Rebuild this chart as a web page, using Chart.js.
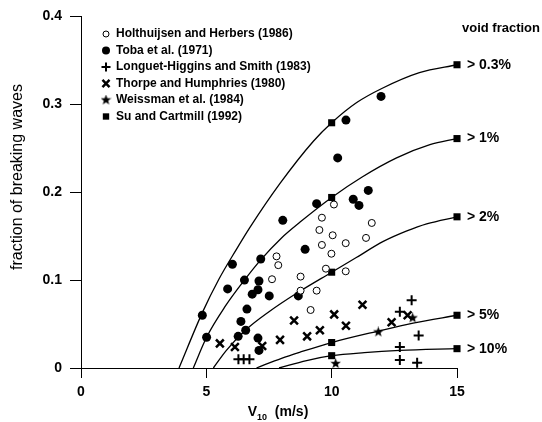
<!DOCTYPE html>
<html>
<head>
<meta charset="utf-8">
<script src="https://cdn.jsdelivr.net/npm/chart.js@4.4.1/dist/chart.umd.min.js"></script>
<style>
  html, body { margin: 0; padding: 0; background: #fff; }
</style>
</head>
<body>
<canvas id="grafico" width="542" height="422"></canvas>
<script>
// wind speed V10 (m/s), fraction of breaking waves
const holthuijsen = [[7.62,0.101],[7.80,0.127],[7.87,0.117],[8.76,0.104],[8.76,0.088],[9.16,0.066],[9.40,0.088],[9.51,0.157],[9.61,0.171],[9.61,0.140],[9.77,0.113],[9.99,0.130],[10.04,0.151],[10.09,0.186],[10.56,0.142],[10.56,0.110],[11.37,0.148],[11.60,0.165]];
const toba = [[4.84,0.060],[5.01,0.035],[5.85,0.090],[6.04,0.118],[6.27,0.036],[6.38,0.053],[6.52,0.100],[6.57,0.043],[6.62,0.067],[6.83,0.084],[7.06,0.089],[7.06,0.034],[7.10,0.099],[7.10,0.020],[7.17,0.124],[7.51,0.082],[8.05,0.168],[8.67,0.082],[8.94,0.135],[9.40,0.187],[10.24,0.239],[10.57,0.282],[10.86,0.192],[11.09,0.185],[11.46,0.202],[11.97,0.309]];
const longuetHiggins = [[6.28,0.010],[6.49,0.010],[6.72,0.010],[12.72,0.064],[12.72,0.024],[12.72,0.009],[13.19,0.077],[13.41,0.006],[13.47,0.037]];
const thorpe = [[5.54,0.028],[6.14,0.024],[7.23,0.025],[7.94,0.032],[8.50,0.054],[9.02,0.036],[9.53,0.043],[10.10,0.061],[10.57,0.048],[11.23,0.072],[12.39,0.052],[13.03,0.060]];
const weissman = [[10.16,0.005],[11.86,0.041],[13.23,0.057]];
const suCartmill = [[10,0.279],[15,0.345],[10,0.194],[15,0.261],[10,0.109],[15,0.172],[10,0.029],[15,0.060],[10,0.014],[15,0.022]];

// void fraction curves
const curve03 = [[3.91,0],[4.84,0.063],[5.5,0.101],[6.2,0.135],[6.74,0.160],[7.94,0.210],[9.27,0.258],[10,0.279],[11,0.302],[12,0.318],[13.5,0.336],[15,0.345]];
const curve1 = [[4.48,0],[5.01,0.035],[5.75,0.070],[6.52,0.100],[7.17,0.123],[8.0,0.148],[8.74,0.166],[10,0.194],[11.2,0.217],[12.59,0.239],[13.92,0.254],[15,0.261]];
const curve2 = [[5.28,0],[5.8,0.020],[6.6,0.044],[7.5,0.064],[8.6,0.085],[10,0.109],[11,0.126],[12.06,0.144],[13,0.156],[13.79,0.164],[15,0.172]];
const curve5 = [[7.0,0],[8,0.011],[8.74,0.018],[10,0.029],[11.86,0.042],[13.25,0.051],[15,0.060]];
const curve10 = [[7.9,0],[9,0.0085],[10,0.014],[11.3,0.0175],[12.72,0.0200],[15,0.022]];
const curveLabels = ['> 0.3%', '> 1%', '> 2%', '> 5%', '> 10%'];

const legendLabels = ['Holthuijsen and Herbers (1986)', 'Toba et al. (1971)', 'Longuet-Higgins and Smith (1983)', 'Thorpe and Humphries (1980)', 'Weissman et al. (1984)', 'Su and Cartmill (1992)'];

const xTicks = [0, 5, 10, 15];
const xTickLabels = ['0', '5', '10', '15'];
const yTicks = [0, 0.1, 0.2, 0.3, 0.4];
const yTickLabels = ['0', '0.1', '0.2', '0.3', '0.4'];

const FONT = '"Liberation Sans", Arial, Helvetica, sans-serif';
const pts = arr => arr.map(p => ({ x: p[0], y: p[1] }));

// filled five-point star marker
function makeStar(size) {
    const c = document.createElement('canvas');
    c.width = size; c.height = size;
    const g = c.getContext('2d');
    const cx = size / 2, cy = size / 2, R = size / 2, r = R * 0.42;
    g.beginPath();
    for (let i = 0; i < 10; i++) {
        const rad = (i % 2 === 0) ? R : r;
        const a = -Math.PI / 2 + i * Math.PI / 5;
        g.lineTo(cx + rad * Math.cos(a), cy + rad * Math.sin(a));
    }
    g.closePath();
    g.fillStyle = '#000';
    g.fill();
    return c;
}
const star = makeStar(11);

const markerSets = [
    { label: legendLabels[0], data: pts(holthuijsen), pointStyle: 'circle', pointRadius: 3.5, backgroundColor: '#fff', borderColor: '#000', borderWidth: 1 },
    { label: legendLabels[1], data: pts(toba), pointStyle: 'circle', pointRadius: 4.5, backgroundColor: '#000', borderColor: '#000', borderWidth: 0 },
    { label: legendLabels[2], data: pts(longuetHiggins), pointStyle: 'cross', pointRadius: 5, backgroundColor: '#000', borderColor: '#000', borderWidth: 2 },
    { label: legendLabels[3], data: pts(thorpe), pointStyle: 'crossRot', pointRadius: 5.5, backgroundColor: '#000', borderColor: '#000', borderWidth: 2.5 },
    { label: legendLabels[4], data: pts(weissman), pointStyle: star, pointRadius: 5.5, backgroundColor: '#000', borderColor: '#000', borderWidth: 0 },
    { label: legendLabels[5], data: pts(suCartmill), pointStyle: 'rect', pointRadius: 5, backgroundColor: '#000', borderColor: '#000', borderWidth: 0 }
];

const curves = [curve03, curve1, curve2, curve5, curve10];
const curveSets = curves.map((c, i) => ({
    label: curveLabels[i],
    data: pts(c),
    showLine: true,
    pointRadius: 0,
    borderColor: '#000',
    borderWidth: 1.3,
    cubicInterpolationMode: 'monotone'
}));

const anotacoes = {
    id: 'anotacoes',
    afterDraw(chart) {
        const { ctx, scales } = chart;
        const y = scales.y;
        ctx.save();
        ctx.fillStyle = '#000';

        // y title
        ctx.save();
        ctx.font = '16px ' + FONT;
        ctx.translate(18, 177);
        ctx.rotate(-Math.PI / 2);
        ctx.textAlign = 'center';
        ctx.textBaseline = 'middle';
        ctx.fillText('fraction of breaking waves', 0, 0);
        ctx.restore();

        // x title with subscript
        ctx.textBaseline = 'alphabetic';
        ctx.textAlign = 'left';
        const big = 'bold 14px ' + FONT, small = 'bold 9px ' + FONT;
        ctx.font = big; const wV = ctx.measureText('V').width; const wU = ctx.measureText('  (m/s)').width;
        ctx.font = small; const wS = ctx.measureText('10').width;
        let xs = 278 - (wV + wS + wU) / 2;
        ctx.font = big; ctx.fillText('V', xs, 416); xs += wV;
        ctx.font = small; ctx.fillText('10', xs, 420); xs += wS;
        ctx.font = big; ctx.fillText('  (m/s)', xs, 416);

        // legend
        ctx.font = 'bold 12px ' + FONT;
        ctx.textBaseline = 'middle';
        markerSets.forEach((ds, i) => {
            const ly = 34 + 16.5 * i;
            ctx.fillStyle = ds.backgroundColor;
            ctx.strokeStyle = ds.borderColor;
            ctx.lineWidth = ds.borderWidth;
            Chart.helpers.drawPoint(ctx, {
                pointStyle: ds.pointStyle, radius: ds.pointRadius - 0.5, rotation: 0, borderWidth: ds.borderWidth
            }, 106, ly);
            ctx.fillStyle = '#000';
            ctx.fillText(ds.label, 116, ly);
        });

        // void fraction labels
        ctx.font = 'bold 13px ' + FONT;
        ctx.fillText('void fraction', 462, 28);
        ctx.font = 'bold 14px ' + FONT;
        curves.forEach((c, i) => {
            const last = c[c.length - 1];
            ctx.fillText(curveLabels[i], 467, y.getPixelForValue(last[1]));
        });
        ctx.restore();
    }
};

new Chart(document.getElementById('grafico'), {
    type: 'scatter',
    data: { datasets: markerSets.concat(curveSets) },
    options: {
        responsive: false,
        animation: false,
        devicePixelRatio: 1,
        clip: false,
        layout: { padding: { top: 14, right: 85, bottom: 0, left: 0 } },
        plugins: { legend: { display: false }, tooltip: { enabled: false } },
        scales: {
            x: {
                type: 'linear', min: 0, max: 15,
                afterFit: s => { s.height = 54; },
                afterBuildTicks: s => { s.ticks = xTicks.map(v => ({ value: v })); },
                ticks: { callback: (v, i) => xTickLabels[i], color: '#000', padding: 6, font: { family: FONT, size: 14, weight: 'bold' } },
                grid: { drawOnChartArea: false, drawTicks: true, tickLength: 10, color: '#000', lineWidth: 1 },
                border: { display: true, color: '#000', width: 1 }
            },
            y: {
                type: 'linear', min: 0, max: 0.4,
                afterFit: s => { s.width = 81; },
                afterBuildTicks: s => { s.ticks = yTicks.map(v => ({ value: v })); },
                ticks: { callback: (v, i) => yTickLabels[i], color: '#000', padding: 8, font: { family: FONT, size: 14, weight: 'bold' } },
                grid: { drawOnChartArea: false, drawTicks: true, tickLength: 11, color: '#000', lineWidth: 1 },
                border: { display: true, color: '#000', width: 1 }
            }
        },
        elements: { point: { hoverRadius: 0 } }
    },
    plugins: [anotacoes]
});
</script>
</body>
</html>
